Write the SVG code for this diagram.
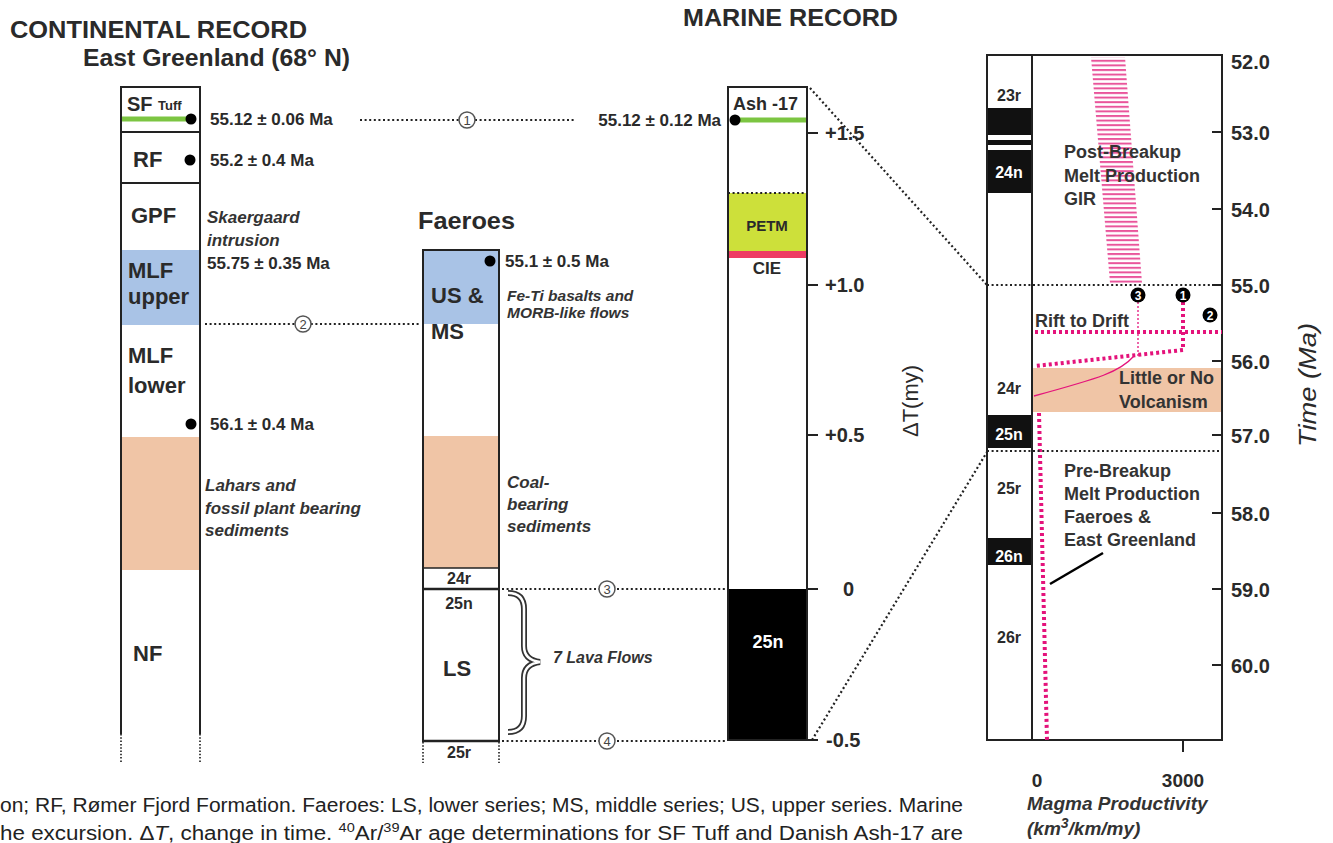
<svg xmlns="http://www.w3.org/2000/svg" width="1333" height="843" viewBox="0 0 1333 843">
<style>
text{font-family:"Liberation Sans",Arial,sans-serif;fill:#2a2a2a}
.b{font-weight:bold}
.it{font-style:italic;font-weight:bold;fill:#333}
.title{font-weight:bold;font-size:24px}
.age{font-weight:bold;font-size:17px}
.unit{font-weight:bold;font-size:22px}
.col{fill:none;stroke:#222;stroke-width:2}
.dv{stroke:#222;stroke-width:2}
.dot{stroke:#222;stroke-width:2.2;stroke-dasharray:2 2.6;fill:none}
.dotv{stroke:#333;stroke-width:1.8;stroke-dasharray:1.5 1.8;fill:none}
.pol{font-weight:bold;font-size:16px;text-anchor:middle}
.polw{font-weight:bold;font-size:16px;text-anchor:middle;fill:#fff}
.tick{stroke:#222;stroke-width:2}
.ax{font-weight:bold;font-size:20px}
.rp{font-weight:bold;font-size:18px;fill:#333}
.pk{stroke:#e4137b;stroke-width:4;stroke-dasharray:3 3;fill:none}
.pkt{stroke:#e4137b;stroke-width:1.3;stroke-dasharray:2 2;fill:none}
.cn{fill:#fff;stroke:#555;stroke-width:1.5}
.cnt{font-size:13px;text-anchor:middle;fill:#444}
.bc{fill:#111}
.bct{font-size:12px;font-weight:bold;fill:#fff;text-anchor:middle}
.cap{font-size:20px;fill:#222}
</style>
<defs>
<pattern id="hatch" patternUnits="userSpaceOnUse" width="6" height="4.6">
<rect x="0" y="0" width="6" height="2" fill="#e9559b"/>
</pattern>
</defs>

<!-- Titles -->
<g id="titles">
<text x="10" y="38" class="title" textLength="297" lengthAdjust="spacingAndGlyphs">CONTINENTAL RECORD</text>
<text x="83" y="66" class="title" textLength="267" lengthAdjust="spacingAndGlyphs">East Greenland (68° N)</text>
<text x="683" y="26" class="title" textLength="215" lengthAdjust="spacingAndGlyphs">MARINE RECORD</text>
</g>

<!-- Continental column -->
<g id="continental">
<rect x="121" y="250" width="79" height="75" fill="#a9c3e6"/>
<rect x="121" y="437" width="79" height="133" fill="#f0c5a6"/>
<line x1="121" y1="119" x2="190" y2="119" stroke="#7cc542" stroke-width="5"/>
<line x1="121" y1="87" x2="200" y2="87" class="dv"/>
<line x1="121" y1="132" x2="200" y2="132" class="dv"/>
<line x1="121" y1="183" x2="200" y2="183" class="dv"/>
<line x1="121" y1="86" x2="121" y2="734" class="dv"/>
<line x1="200" y1="86" x2="200" y2="734" class="dv"/>
<line x1="121" y1="734" x2="121" y2="763" class="dotv"/>
<line x1="200" y1="734" x2="200" y2="763" class="dotv"/>
<text x="127" y="111" class="b" font-size="20">SF</text>
<text x="158" y="110" class="b" font-size="13">Tuff</text>
<text x="133" y="167" class="unit" font-size="21">RF</text>
<text x="131" y="223" class="unit">GPF</text>
<text x="128" y="278" class="unit">MLF</text>
<text x="128" y="304" class="unit">upper</text>
<text x="128" y="363" class="unit">MLF</text>
<text x="128" y="393" class="unit">lower</text>
<text x="133" y="661" class="unit">NF</text>
<circle cx="191" cy="119" r="5.5" fill="#000"/>
<circle cx="190" cy="160" r="5.5" fill="#000"/>
<circle cx="191" cy="424" r="5.5" fill="#000"/>
<text x="210" y="125" class="age">55.12 ± 0.06 Ma</text>
<text x="210" y="166" class="age">55.2 ± 0.4 Ma</text>
<text x="207" y="223" class="it" font-size="17">Skaergaard</text>
<text x="207" y="246" class="it" font-size="17">intrusion</text>
<text x="207" y="269" class="age">55.75 ± 0.35 Ma</text>
<text x="210" y="430" class="age">56.1 ± 0.4 Ma</text>
<text x="205" y="491" class="it" font-size="17">Lahars and</text>
<text x="205" y="514" class="it" font-size="17">fossil plant bearing</text>
<text x="205" y="536" class="it" font-size="17">sediments</text>
</g>

<!-- Faeroes column -->
<g id="faeroes">
<text x="418" y="229" class="title" textLength="97" lengthAdjust="spacingAndGlyphs">Faeroes</text>
<rect x="423" y="250" width="76" height="74" fill="#a9c3e6"/>
<rect x="423" y="436" width="76" height="132" fill="#f0c5a6"/>
<line x1="423" y1="250" x2="499" y2="250" class="dv"/>
<line x1="423" y1="568" x2="499" y2="568" stroke="#222" stroke-width="1.5"/>
<line x1="423" y1="589" x2="499" y2="589" stroke="#222" stroke-width="2.5"/>
<line x1="423" y1="741" x2="499" y2="741" stroke="#222" stroke-width="2.5"/>
<line x1="423" y1="249" x2="423" y2="742" class="dv"/>
<line x1="499" y1="249" x2="499" y2="742" class="dv"/>
<line x1="423" y1="742" x2="423" y2="763" class="dotv"/>
<line x1="499" y1="742" x2="499" y2="763" class="dotv"/>
<circle cx="490" cy="261" r="5.5" fill="#000"/>
<text x="505" y="267" class="age">55.1 ± 0.5 Ma</text>
<text x="431" y="303" class="unit" font-size="23">US &amp;</text>
<text x="431" y="339" class="unit" font-size="23">MS</text>
<text x="507" y="301" class="it" font-size="15.5">Fe-Ti basalts and</text>
<text x="507" y="318" class="it" font-size="15.5">MORB-like flows</text>
<text x="507" y="488" class="it" font-size="17">Coal-</text>
<text x="507" y="510" class="it" font-size="17">bearing</text>
<text x="507" y="532" class="it" font-size="17">sediments</text>
<text x="459" y="584" class="pol" font-size="14">24r</text>
<text x="459" y="609" class="pol" font-size="14">25n</text>
<text x="443" y="676" class="unit" font-size="24">LS</text>
<text x="459" y="758" class="pol" font-size="14">25r</text>
<path d="M508,593 Q524,593 524,609 L524,646 Q524,660 540,662 Q524,664 524,678 L524,716 Q524,732 508,732" fill="none" stroke="#333" stroke-width="6"/>
<path d="M508,593 Q524,593 524,609 L524,646 Q524,660 540,662 Q524,664 524,678 L524,716 Q524,732 508,732" fill="none" stroke="#fff" stroke-width="2.5"/>
<text x="553" y="663" class="it" font-size="16">7 Lava Flows</text>
</g>

<!-- Marine column -->
<g id="marine">
<rect x="728" y="193" width="79" height="58" fill="#cde03a"/>
<rect x="728" y="251" width="79" height="7" fill="#ee3c64"/>
<rect x="728" y="589" width="79" height="151" fill="#000"/>
<line x1="735" y1="120" x2="807" y2="120" stroke="#7cc542" stroke-width="5"/>
<line x1="728" y1="193" x2="807" y2="193" class="dot"/>
<rect x="728" y="87" width="79" height="653" class="col"/>
<circle cx="735" cy="120" r="5.5" fill="#000"/>
<text x="733" y="110" class="b" font-size="18">Ash -17</text>
<text x="767" y="231" class="b" font-size="15" text-anchor="middle">PETM</text>
<text x="767" y="274" class="b" font-size="17" text-anchor="middle">CIE</text>
<text x="768" y="648" class="b" font-size="18" text-anchor="middle" style="fill:#fff">25n</text>
<text x="721" y="126" class="age" text-anchor="end">55.12 ± 0.12 Ma</text>
<line x1="807" y1="133" x2="818" y2="133" class="tick"/>
<line x1="807" y1="285" x2="818" y2="285" class="tick"/>
<line x1="807" y1="435" x2="818" y2="435" class="tick"/>
<line x1="807" y1="589" x2="818" y2="589" class="tick"/>
<line x1="807" y1="740" x2="818" y2="740" class="tick"/>
<text x="825" y="140" class="ax">+1.5</text>
<text x="825" y="292" class="ax">+1.0</text>
<text x="825" y="442" class="ax">+0.5</text>
<text x="843" y="596" class="ax">0</text>
<text x="826" y="747" class="ax">-0.5</text>
<text transform="translate(918,401) rotate(-90)" text-anchor="middle" font-size="22" fill="#333">ΔT(my)</text>
</g>

<!-- Right panel -->
<g id="productivity">
<rect x="1032" y="368" width="190" height="44" fill="#f0c5a6"/>
<polygon points="1091,57 1125,57 1142,283 1110,283" fill="url(#hatch)"/>
<rect x="987" y="108" width="45" height="27" class="bc"/>
<rect x="987" y="140" width="45" height="5" class="bc"/>
<rect x="987" y="150" width="45" height="43" class="bc"/>
<rect x="987" y="415" width="45" height="33" class="bc"/>
<rect x="987" y="538" width="45" height="27" class="bc"/>
<rect x="987" y="55" width="235" height="685" class="col" stroke-width="2.2"/>
<line x1="1032" y1="55" x2="1032" y2="740" class="dv"/>
<text x="1009" y="101" class="pol">23r</text>
<text x="1009" y="178" class="polw">24n</text>
<text x="1009" y="394" class="pol">24r</text>
<text x="1009" y="440" class="polw">25n</text>
<text x="1009" y="494" class="pol">25r</text>
<text x="1009" y="562" class="polw">26n</text>
<text x="1009" y="643" class="pol">26r</text>
<line x1="1212" y1="132" x2="1222" y2="132" class="tick"/>
<line x1="1212" y1="209" x2="1222" y2="209" class="tick"/>
<line x1="1212" y1="285" x2="1222" y2="285" class="tick"/>
<line x1="1212" y1="361" x2="1222" y2="361" class="tick"/>
<line x1="1212" y1="435" x2="1222" y2="435" class="tick"/>
<line x1="1212" y1="513" x2="1222" y2="513" class="tick"/>
<line x1="1212" y1="589" x2="1222" y2="589" class="tick"/>
<line x1="1212" y1="665" x2="1222" y2="665" class="tick"/>
<line x1="1183" y1="740" x2="1183" y2="752" class="tick"/>
<text x="1231" y="69" class="ax">52.0</text>
<text x="1231" y="140" class="ax">53.0</text>
<text x="1231" y="217" class="ax">54.0</text>
<text x="1231" y="293" class="ax">55.0</text>
<text x="1231" y="369" class="ax">56.0</text>
<text x="1231" y="443" class="ax">57.0</text>
<text x="1231" y="521" class="ax">58.0</text>
<text x="1231" y="597" class="ax">59.0</text>
<text x="1231" y="673" class="ax">60.0</text>
<text transform="translate(1316,385) rotate(-90)" text-anchor="middle" font-size="24" font-style="italic" fill="#333" textLength="124" lengthAdjust="spacingAndGlyphs">Time (Ma)</text>
<text x="1037" y="787" class="b" font-size="19" text-anchor="middle">0</text>
<text x="1183" y="787" class="b" font-size="19" text-anchor="middle">3000</text>
<text x="1027" y="810" class="it" font-size="19">Magma Productivity</text>
<text x="1027" y="835" class="it" font-size="19">(km<tspan font-size="14" dy="-7">3</tspan><tspan dy="7">/km/my)</tspan></text>
<text x="1064" y="158" class="rp">Post-Breakup</text>
<text x="1064" y="182" class="rp">Melt Production</text>
<text x="1064" y="205" class="rp">GIR</text>
<text x="1035" y="327" class="rp" font-size="17">Rift to Drift</text>
<text x="1119" y="384" class="rp">Little or No</text>
<text x="1119" y="408" class="rp">Volcanism</text>
<text x="1064" y="477" class="rp">Pre-Breakup</text>
<text x="1064" y="500" class="rp">Melt Production</text>
<text x="1064" y="523" class="rp">Faeroes &amp;</text>
<text x="1064" y="546" class="rp">East Greenland</text>
<line x1="1035" y1="332" x2="1222" y2="332" class="pk" stroke-width="3"/>
<line x1="1138" y1="302" x2="1138" y2="358" class="pkt"/>
<path d="M1134,356 C1120,372 1100,378 1034,396" fill="none" stroke="#e4137b" stroke-width="1.3"/>
<path d="M1183,302 L1183,350 L1035,366" class="pk"/>
<line x1="1039" y1="413" x2="1047" y2="740" class="pk"/>
<line x1="1050" y1="584" x2="1103" y2="553" stroke="#000" stroke-width="2.5"/>
<circle cx="1138" cy="295" r="7.5" fill="#000"/>
<text x="1138" y="299.5" class="bct">3</text>
<circle cx="1183" cy="295" r="7.5" fill="#000"/>
<text x="1183" y="299.5" class="bct">1</text>
<circle cx="1210" cy="315" r="7.5" fill="#000"/>
<text x="1210" y="319.5" class="bct">2</text>
</g>

<!-- Connectors -->
<g id="connectors">
<line x1="360" y1="120" x2="575" y2="120" class="dot"/>
<line x1="205" y1="324" x2="420" y2="324" class="dot"/>
<line x1="502" y1="589" x2="725" y2="589" class="dot"/>
<line x1="502" y1="741" x2="725" y2="741" class="dot"/>
<line x1="810" y1="88" x2="987" y2="285" class="dot"/>
<line x1="987" y1="285" x2="1222" y2="285" class="dot"/>
<line x1="812" y1="740" x2="987" y2="452" class="dot"/>
<line x1="987" y1="451" x2="1222" y2="451" class="dot"/>
<circle cx="467" cy="120" r="8" class="cn"/><text x="467" y="125" class="cnt">1</text>
<circle cx="303" cy="324" r="8" class="cn"/><text x="303" y="329" class="cnt">2</text>
<circle cx="607" cy="589" r="8" class="cn"/><text x="607" y="594" class="cnt">3</text>
<circle cx="607" cy="741" r="8" class="cn"/><text x="607" y="746" class="cnt">4</text>
</g>

<!-- Caption fragment -->
<g id="caption">
<text x="0" y="812" class="cap" textLength="963" lengthAdjust="spacingAndGlyphs">on;  RF, Rømer Fjord Formation. Faeroes: LS, lower series; MS, middle series; US, upper series. Marine</text>
<text x="0" y="840" class="cap" textLength="963" lengthAdjust="spacingAndGlyphs">he excursion. Δ<tspan font-style="italic">T</tspan>, change in time. <tspan font-size="13" dy="-8">40</tspan><tspan dy="8">Ar/</tspan><tspan font-size="13" dy="-8">39</tspan><tspan dy="8">Ar age determinations for SF Tuff and Danish Ash-17 are</tspan></text>
</g>
</svg>
